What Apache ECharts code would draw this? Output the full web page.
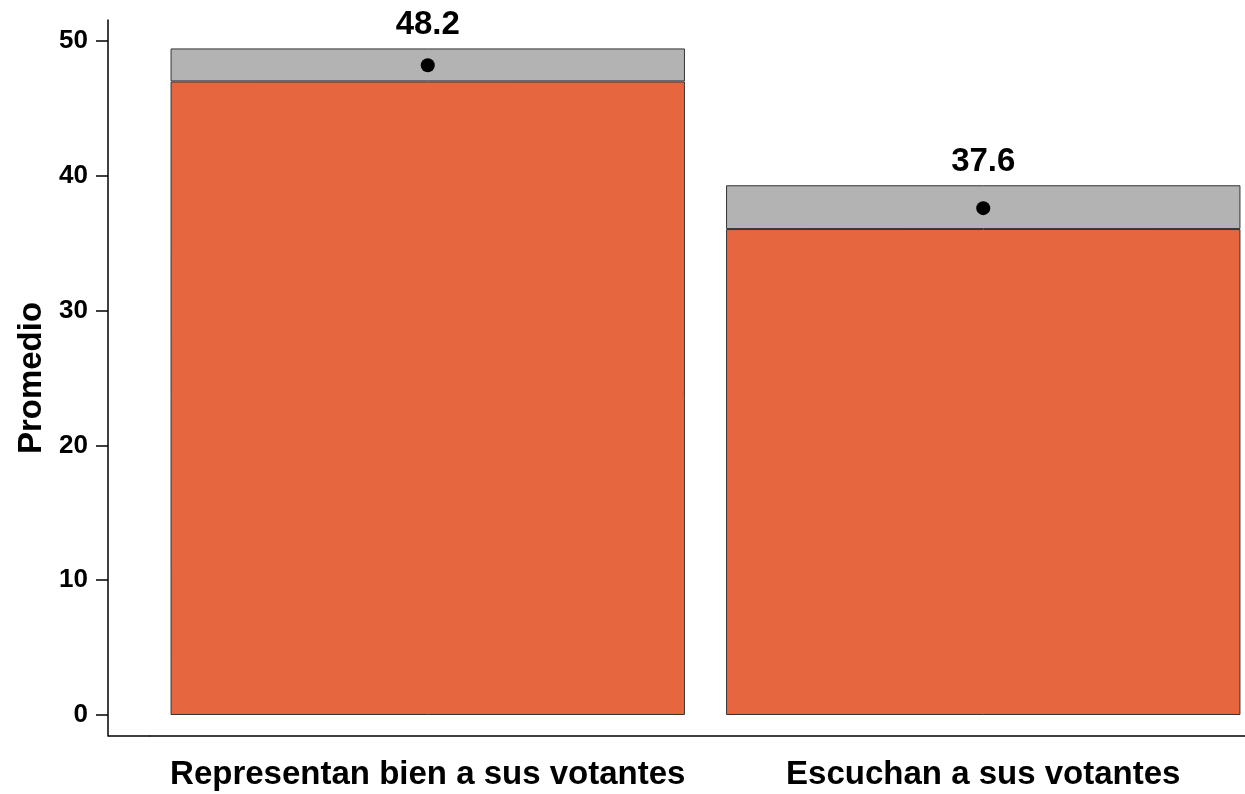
<!DOCTYPE html>
<html>
<head>
<meta charset="utf-8">
<script src="https://cdn.jsdelivr.net/npm/echarts@6/dist/echarts.min.js"></script>
<style>
  html, body { margin: 0; padding: 0; background: #fff; }
  #main { width: 1245px; height: 794px; }
</style>
</head>
<body>
<div id="main"></div>
<script>
// datos
const categorias = ['Representan bien a sus votantes', 'Escuchan a sus votantes'];
const promedio = [48.2, 37.6];
const limInferior = [47.0, 36.05];
const limSuperior = [49.45, 39.3];
const yTicks = [0, 10, 20, 30, 40, 50];

const FONT = 'Liberation Sans';
let chart = echarts.init(document.getElementById('main'), null, { renderer: 'canvas' });

// el tramo gris es la diferencia entre los limites
const tramo = limSuperior.map((v, i) => +(v - limInferior[i]).toFixed(3));

let option = {
  backgroundColor: '#fff',
  animation: false,
  grid: { left: 150, width: 1111, top: 20, height: 716, outerBoundsMode: 'none', containLabel: false },
  xAxis: {
    type: 'category',
    data: categorias,
    axisLine: { onZero: false, lineStyle: { color: '#000', width: 1.5 } },
    axisTick: { show: false },
    axisLabel: {
      interval: 0,
      fontFamily: FONT, fontWeight: 'bold', fontSize: 33, color: '#000', margin: 22
    }
  },
  yAxis: {
    type: 'value',
    min: -1.56,
    max: 51.56,
    offset: 42,
    splitLine: { show: false },
    name: 'Promedio',
    nameLocation: 'middle',
    nameGap: 60,
    nameTextStyle: { fontFamily: FONT, fontWeight: 'bold', fontSize: 33, color: '#000' },
    axisLine: { show: true, lineStyle: { color: '#000', width: 1.5 } },
    axisTick: { show: true, length: 12, customValues: yTicks, lineStyle: { color: '#000', width: 1.5 } },
    axisLabel: {
      customValues: yTicks,
      fontFamily: FONT, fontWeight: 'bold', fontSize: 26, color: '#000', margin: 20
    }
  },
  graphic: [{
    type: 'line',
    shape: { x1: 108, y1: 736, x2: 150, y2: 736 },
    style: { stroke: '#000', lineWidth: 1.5 }
  }],
  series: [
    {
      name: 'inferior',
      type: 'bar',
      stack: 'ic',
      barWidth: '92.6%',
      data: limInferior,
      itemStyle: { color: '#E6673F', borderColor: '#333', borderWidth: 1 }
    },
    {
      name: 'intervalo',
      type: 'bar',
      stack: 'ic',
      barWidth: '92.6%',
      data: tramo,
      itemStyle: { color: '#B3B3B3', borderColor: '#333', borderWidth: 1 },
      label: {
        show: true,
        position: 'top',
        distance: 7,
        formatter: p => promedio[p.dataIndex].toFixed(1),
        fontFamily: FONT, fontWeight: 'bold', fontSize: 33, color: '#000'
      }
    },
    {
      name: 'promedio',
      type: 'scatter',
      data: promedio,
      symbol: 'circle',
      symbolSize: 14,
      itemStyle: { color: '#000', opacity: 1 },
      z: 5
    }
  ]
};
chart.setOption(option);
</script>
</body>
</html>
